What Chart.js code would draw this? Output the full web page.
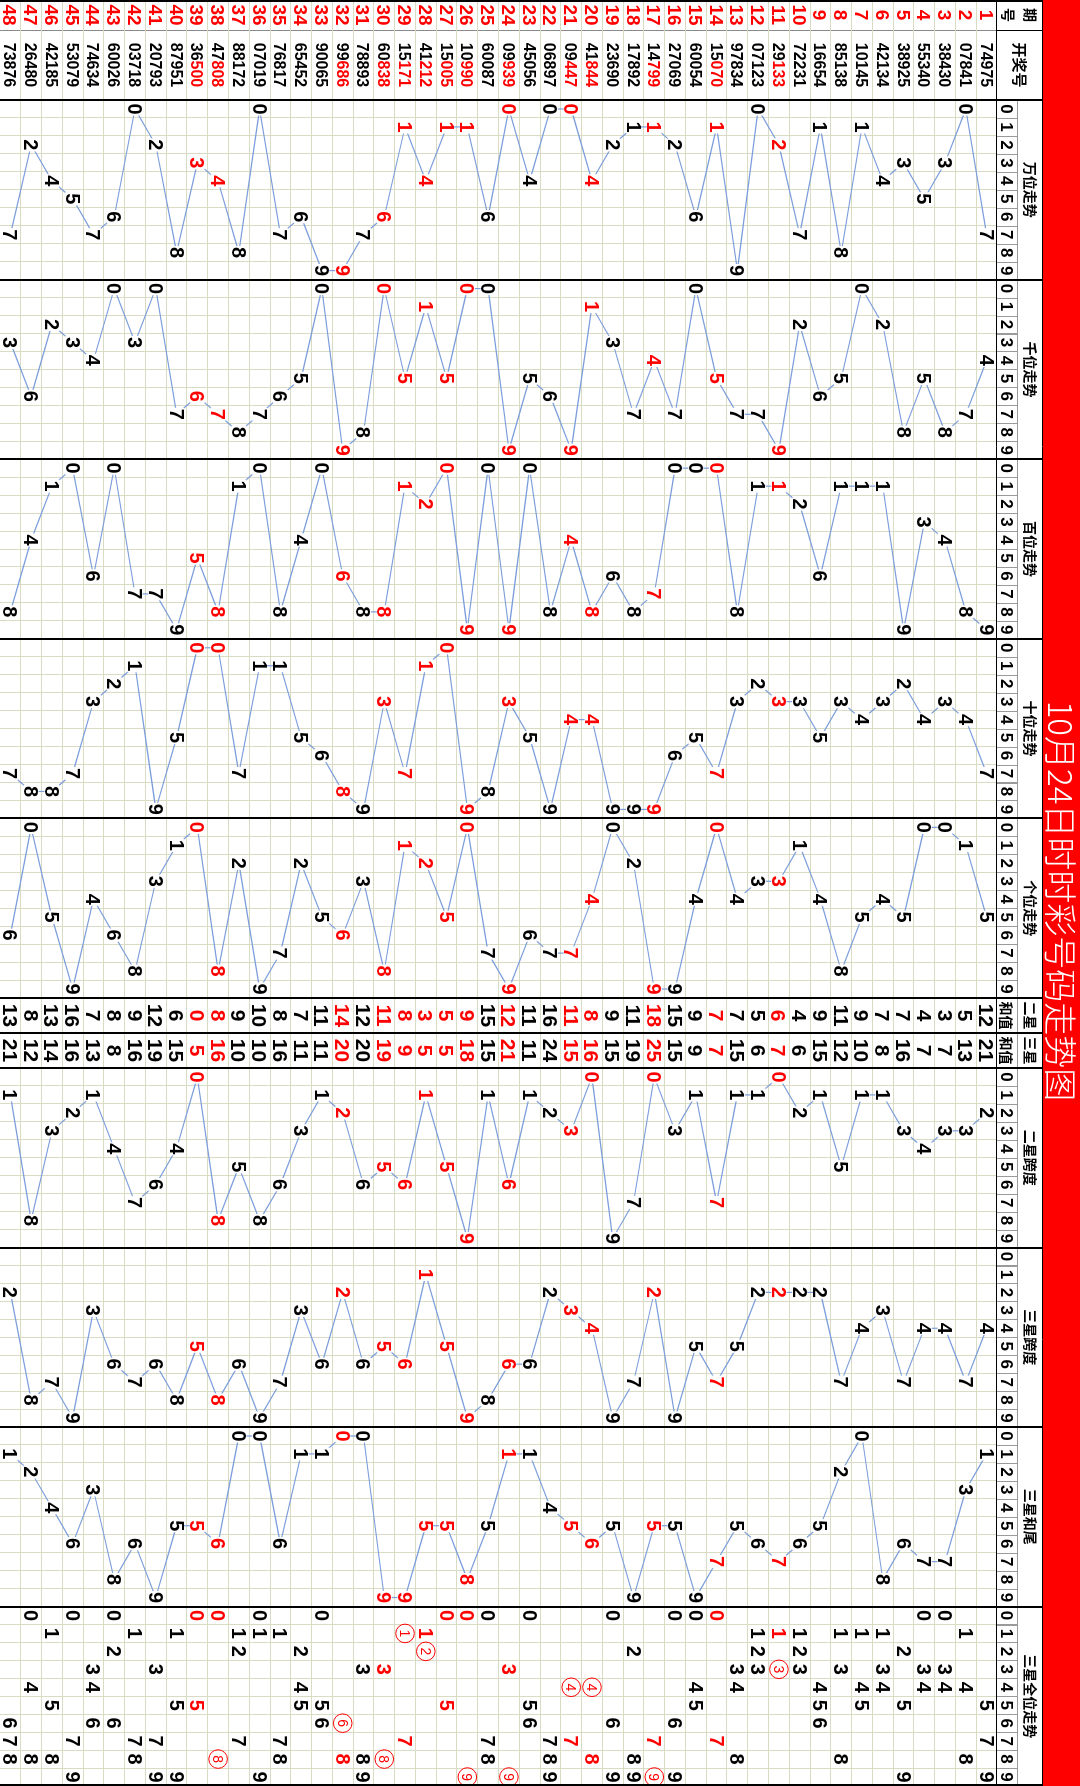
<!DOCTYPE html>
<html>
<head>
<meta charset="utf-8">
<script src="https://cdn.jsdelivr.net/npm/chart.js@4.4.1/dist/chart.umd.min.js"></script>
<style>
html, body { margin: 0; padding: 0; background: #fff; overflow: hidden; }
#wrap { position: absolute; left: 0; top: 0; width: 1786px; height: 1080px;
        transform-origin: 0 0; transform: translate(1080px, 0) rotate(90deg); }
</style>
</head>
<body>
<div id="wrap"><canvas id="trend" width="1786" height="1080"></canvas></div>
<script>
var titleText = '10月24日时时彩号码走势图';

var periods = [1,2,3,4,5,6,7,8,9,10,11,12,13,14,15,16,17,18,19,20,21,22,23,24,
               25,26,27,28,29,30,31,32,33,34,35,36,37,38,39,40,41,42,43,44,45,46,47,48];
var draws = ['74975','07841','38430','55340','38925','42134','10145','85138','16654','72231',
             '29133','07123','97834','15070','60054','27069','14799','17892','23690','41844',
             '09447','06897','45056','09939','60087','10990','15005','41212','15171','60838',
             '78893','99686','90065','65452','76817','07019','88172','47808','36500','87951',
             '20793','03718','60026','74634','53079','42185','26480','73876'];
// periods drawn in red (组三)
var redPeriods = [11,14,17,20,21,24,26,27,28,29,30,32,38,39];

var wan  = [7,0,3,5,3,4,1,8,1,7,2,0,9,1,6,2,1,1,2,4,0,0,4,0,6,1,1,4,1,6,7,9,9,6,7,0,8,4,3,8,2,0,6,7,5,4,2,7];
var qian = [4,7,8,5,8,2,0,5,6,2,9,7,7,5,0,7,4,7,3,1,9,6,5,9,0,0,5,1,5,0,8,9,0,5,6,7,8,7,6,7,0,3,0,4,3,2,6,3];
var bai  = [9,8,4,3,9,1,1,1,6,2,1,1,8,0,0,0,7,8,6,8,4,8,0,9,0,9,0,2,1,8,8,6,0,4,8,0,1,8,5,9,7,7,0,6,0,1,4,8];
var shi  = [7,4,3,4,2,3,4,3,5,3,3,2,3,7,5,6,9,9,9,4,4,9,5,3,8,9,0,1,7,3,9,8,6,5,1,1,7,0,0,5,9,1,2,3,7,8,8,7];
var ge   = [5,1,0,0,5,4,5,8,4,1,3,3,4,0,4,9,9,2,0,4,7,7,6,9,7,0,5,2,1,8,3,6,5,2,7,9,2,8,0,1,3,8,6,4,9,5,0,6];
var sum2 = [12,5,3,4,7,7,9,11,9,4,6,5,7,7,9,15,18,11,9,8,11,16,11,12,15,9,5,3,8,11,12,14,11,7,8,10,9,8,0,6,12,9,8,7,16,13,8,13];
var sum3 = [21,13,7,7,16,8,10,12,15,6,7,6,15,7,9,15,25,19,15,16,15,24,11,21,15,18,5,5,9,19,20,20,11,11,16,10,10,16,5,15,19,16,8,13,16,14,12,21];
var span2 = [2,3,3,4,3,1,1,5,1,2,0,1,1,7,1,3,0,7,9,0,3,2,1,6,1,9,5,1,6,5,6,2,1,3,6,8,5,8,0,4,6,7,4,1,2,3,8,1];
var span3 = [4,7,4,4,7,3,4,7,2,2,2,2,5,7,5,9,2,7,9,4,3,2,6,6,8,9,5,1,6,5,6,2,6,3,7,9,6,8,5,8,6,7,6,3,9,7,8,2];
var tail3 = [1,3,7,7,6,8,0,2,5,6,7,6,5,7,9,5,5,9,5,6,5,4,1,1,5,8,5,5,9,9,0,0,1,1,6,0,0,6,5,5,9,6,8,3,6,4,2,1];

// ---- layout (unrotated table, the page shows it turned 90deg) ----
var W = 1786, H = 1080;
var bandH = 37, digitRowTop = 62, headBottom = 83;
var RED = '#ff0000', BLACK = '#000000', GRID = '#d9dcc3', LINE = '#7b9ddb';
var FONT = '"Liberation Sans", Arial, sans-serif';
var CJK = '"Noto Sans CJK SC", sans-serif';

var qihaoCol = [0, 30], kjhCol = [30, 100];
var sumCols = [{label: '二星', values: sum2, a: 998, b: 1033},
               {label: '三星', values: sum3, a: 1033, b: 1068}];
var sections = [
  {label: '万位走势', values: wan,  start: 100,    w: 179.6},
  {label: '千位走势', values: qian, start: 279.6,  w: 179.6},
  {label: '百位走势', values: bai,  start: 459.2,  w: 179.6},
  {label: '十位走势', values: shi,  start: 638.8,  w: 179.6},
  {label: '个位走势', values: ge,   start: 818.4,  w: 179.6},
  {label: '二星跨度', values: span2, start: 1068,   w: 179.5},
  {label: '三星跨度', values: span3, start: 1247.5, w: 179.5},
  {label: '三星和尾', values: tail3, start: 1427,   w: 179.5},
  {label: '三星全位走势', values: null, start: 1606.5, w: 179.5}
];

function cellX(sec, d) { return sec.start + (d + 0.5) * sec.w / 10; }
var isRed = periods.map(function(p) { return redPeriods.indexOf(p) >= 0; });

// grid lines
var xLines = [0, qihaoCol[1], kjhCol[1]];
var thick = [kjhCol[1], sumCols[0].a, sumCols[1].a, sumCols[1].b];
sections.forEach(function(s) {
  thick.push(s.start);
  for (var k = 0; k <= 10; k++) xLines.push(+(s.start + k * s.w / 10).toFixed(2));
});
xLines.push(sumCols[0].b);
xLines = xLines.filter(function(v, i, a) { return a.indexOf(v) === i; }).sort(function(a, b) { return a - b; });
function isThick(v) { return thick.some(function(t) { return Math.abs(t - v) < 0.3; }); }

// ---- datasets ----
var datasets = [];
datasets.push({ kind: 'qihao', data: periods.map(function(p) { return {x: (qihaoCol[0] + qihaoCol[1]) / 2, y: p}; }),
  labels: periods.map(String), pointRadius: 0, showLine: false });
datasets.push({ kind: 'kjh', data: periods.map(function(p) { return {x: (kjhCol[0] + kjhCol[1]) / 2, y: p}; }),
  labels: draws, pointRadius: 0, showLine: false });

sections.forEach(function(sec) {
  if (!sec.values) return;
  datasets.push({ kind: 'trend',
    data: periods.map(function(p, i) { return {x: cellX(sec, sec.values[i]), y: p}; }),
    labels: sec.values.map(String), showLine: true, borderColor: LINE, borderWidth: 1.2,
    pointRadius: 0, tension: 0 });
});

sumCols.forEach(function(col) {
  datasets.push({ kind: 'sum', data: periods.map(function(p) { return {x: (col.a + col.b) / 2, y: p}; }),
    labels: col.values.map(String), pointRadius: 0, showLine: false });
});

// 三星全位: one point per distinct digit of the last three
var allSec = sections[8], allPts = [], allLabels = [], allCircle = [], allRed = [];
periods.forEach(function(p, i) {
  var trio = [bai[i], shi[i], ge[i]], seen = {};
  trio.forEach(function(d) {
    if (seen[d]) return;
    seen[d] = true;
    var cnt = trio.filter(function(v) { return v === d; }).length;
    allPts.push({x: cellX(allSec, d), y: p});
    allLabels.push(String(d));
    allCircle.push(cnt === 2 && d !== 0);
    allRed.push(isRed[i]);
  });
});
datasets.push({ kind: 'all3', data: allPts, labels: allLabels, circled: allCircle, reds: allRed,
  pointRadius: 0, showLine: false });

// ---- drawing helpers ----
var tablePlugin = {
  id: 'tableDecor',
  beforeDraw: function(chart) {
    var c = chart.ctx;
    c.save();
    c.fillStyle = '#fff';
    c.fillRect(0, 0, W, H);
    c.restore();
  },
  afterDatasetsDraw: function(chart) {
    var c = chart.ctx;
    c.save();
    c.textAlign = 'center';
    c.textBaseline = 'alphabetic';
    chart.data.datasets.forEach(function(ds, di) {
      var meta = chart.getDatasetMeta(di);
      meta.data.forEach(function(el, j) {
        var x = el.x, y = el.y, txt = ds.labels[j];
        if (ds.kind === 'qihao') {
          c.font = 'bold 19px ' + FONT;
          c.fillStyle = RED;
          c.fillText(txt, x, y + 7);
        } else if (ds.kind === 'kjh') {
          c.font = 'bold 16px ' + FONT;
          var cw = c.measureText('0').width;
          var x0 = x - cw * 2.5 + cw / 2;
          for (var k = 0; k < 5; k++) {
            c.fillStyle = (isRed[j] && k >= 2) ? RED : BLACK;
            c.fillText(txt[k], x0 + k * cw, y + 6);
          }
        } else if (ds.kind === 'trend') {
          c.font = 'bold 20px ' + FONT;
          var tw = c.measureText(txt).width;
          c.fillStyle = '#fff';
          c.fillRect(x - tw / 2 - 1, y - 7.5, tw + 2, 15);
          c.fillStyle = isRed[j] ? RED : BLACK;
          c.fillText(txt, x, y + 7);
        } else if (ds.kind === 'sum') {
          c.font = 'bold 21px ' + FONT;
          c.fillStyle = isRed[j] ? RED : BLACK;
          c.fillText(txt, x, y + 7.5);
        } else if (ds.kind === 'all3') {
          if (ds.circled[j]) {
            c.strokeStyle = RED;
            c.lineWidth = 1;
            c.beginPath();
            c.arc(x, y, 9.3, 0, Math.PI * 2);
            c.stroke();
            c.font = '14px ' + FONT;
            c.fillStyle = RED;
            c.fillText(txt, x, y + 5);
          } else {
            c.font = 'bold 20px ' + FONT;
            c.fillStyle = ds.reds[j] ? RED : BLACK;
            c.fillText(txt, x, y + 7);
          }
        }
      });
    });
    c.restore();
  },
  afterDraw: function(chart) {
    var c = chart.ctx, xs = chart.scales.x, area = chart.chartArea;
    c.save();
    // title band
    c.fillStyle = RED;
    c.fillRect(0, 0, W, bandH);
    c.fillStyle = '#fff';
    c.font = '300 33px ' + CJK;
    c.textAlign = 'center';
    c.textBaseline = 'middle';
    c.fillText(titleText, W / 2 + 8, bandH / 2 + 1);

    // header cells
    c.fillStyle = '#fff';
    c.fillRect(0, bandH, W, headBottom - bandH);
    c.strokeStyle = '#9a9a9a';
    c.lineWidth = 1;
    c.fillStyle = BLACK;
    sections.forEach(function(sec) {
      var cw = sec.w / 10;
      for (var d = 0; d < 10; d++) {
        var x0 = xs.getPixelForValue(sec.start + d * cw);
        c.strokeRect(Math.round(x0) + 0.5, digitRowTop + 0.5, Math.round(cw), headBottom - digitRowTop);
        c.font = 'bold 17px ' + FONT;
        c.textBaseline = 'alphabetic';
        c.fillText(String(d), xs.getPixelForValue(sec.start + (d + 0.5) * cw), digitRowTop + 17);
      }
      c.font = 'bold 14px ' + CJK;
      c.textBaseline = 'middle';
      c.fillText(sec.label, xs.getPixelForValue(sec.start + sec.w / 2), (bandH + digitRowTop) / 2);
    });
    sumCols.forEach(function(col) {
      var cx = xs.getPixelForValue((col.a + col.b) / 2);
      c.strokeRect(Math.round(xs.getPixelForValue(col.a)) + 0.5, digitRowTop + 0.5,
                   Math.round(col.b - col.a), headBottom - digitRowTop);
      c.font = 'bold 14px ' + CJK;
      c.textBaseline = 'middle';
      c.fillText(col.label, cx, (bandH + digitRowTop) / 2);
      c.fillText('和值', cx, (digitRowTop + headBottom) / 2 + 1);
    });
    c.font = 'bold 14px ' + CJK;
    c.textBaseline = 'middle';
    var qx = xs.getPixelForValue((qihaoCol[0] + qihaoCol[1]) / 2);
    c.fillText('期', qx, 50);
    c.fillText('号', qx, 72);
    c.font = 'bold 15px ' + CJK;
    c.fillText('开奖号', xs.getPixelForValue((kjhCol[0] + kjhCol[1]) / 2), (bandH + headBottom) / 2);

    // frame lines
    c.strokeStyle = BLACK;
    c.lineWidth = 1;
    c.beginPath();
    c.moveTo(0, bandH + 0.5); c.lineTo(W, bandH + 0.5);
    c.moveTo(0, headBottom + 0.5); c.lineTo(W, headBottom + 0.5);
    c.moveTo(xs.getPixelForValue(qihaoCol[1]) + 0.5, bandH); c.lineTo(xs.getPixelForValue(qihaoCol[1]) + 0.5, headBottom);
    c.stroke();
    c.lineWidth = 2;
    c.beginPath();
    thick.forEach(function(t) {
      var px = Math.round(xs.getPixelForValue(t));
      c.moveTo(px, bandH); c.lineTo(px, area.bottom);
    });
    c.moveTo(1, bandH); c.lineTo(1, area.bottom);
    c.moveTo(W - 1, bandH); c.lineTo(W - 1, area.bottom);
    c.stroke();
    c.restore();
  }
};

var config = {
  type: 'scatter',
  data: { datasets: datasets },
  options: {
    responsive: false,
    animation: false,
    devicePixelRatio: 1,
    layout: { padding: { top: headBottom, left: 0, right: 0, bottom: 0 } },
    plugins: { legend: { display: false }, tooltip: { enabled: false } },
    scales: {
      x: {
        type: 'linear', min: 0, max: W,
        ticks: { display: false },
        border: { display: false },
        grid: {
          drawTicks: false,
          color: function(ctx) {
            var v = ctx.tick ? ctx.tick.value : 0;
            if (isThick(v)) return BLACK;
            if (v === qihaoCol[1]) return '#8a8a8a';
            return GRID;
          },
          lineWidth: function(ctx) {
            var v = ctx.tick ? ctx.tick.value : 0;
            return isThick(v) ? 2 : 1;
          }
        },
        afterBuildTicks: function(axis) {
          axis.ticks = xLines.map(function(v) { return {value: v}; });
        }
      },
      y: {
        type: 'linear', min: 0.5, max: 48.5, reverse: true,
        ticks: { display: false },
        border: { display: false },
        grid: {
          drawTicks: false,
          color: function(ctx) { return (ctx.tick && ctx.tick.value === 0.5) ? BLACK : GRID; }
        },
        afterBuildTicks: function(axis) {
          var t = [];
          for (var k = 0; k <= periods.length; k++) t.push({value: k + 0.5});
          axis.ticks = t;
        }
      }
    }
  },
  plugins: [tablePlugin]
};

var chart = new Chart(document.getElementById('trend'), config);
</script>
</body>
</html>
